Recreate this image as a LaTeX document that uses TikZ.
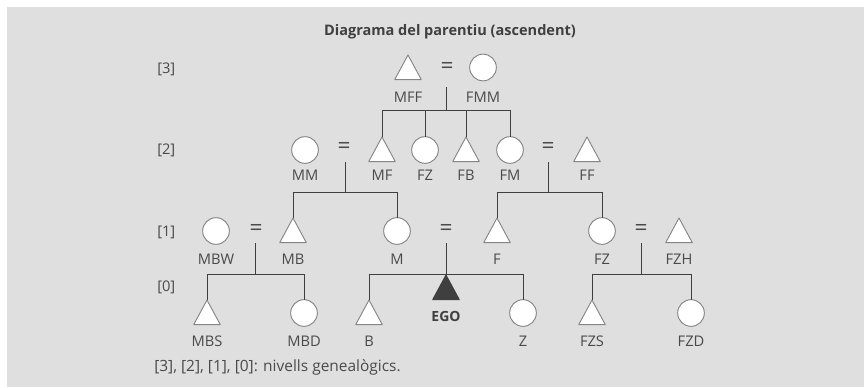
\documentclass[tikz,border=0pt]{standalone}
\usepackage{fontspec}
\setmainfont{Open Sans}
\definecolor{bg}{HTML}{DEDFDE}
\definecolor{ink}{HTML}{3F3F3F}
\definecolor{txt}{HTML}{4A4A4A}
\definecolor{edge}{HTML}{858585}
\tikzset{
  tribase/.style 2 args={shape=rectangle, minimum width=20pt, minimum height=18.5pt, inner sep=0pt, outer sep=0pt, anchor=north,
    append after command={\pgfextra{\draw[draw=#1, fill=#2, line width=0.7pt, line join=round]
      (\tikzlastnode.north) -- (\tikzlastnode.south east) -- (\tikzlastnode.south west) -- cycle;}}},
  male/.style={tribase={edge}{white}},
  egotri/.style={tribase={ink}{ink}},
  female/.style={circle, minimum size=20pt, inner sep=0pt, outer sep=0pt, draw=edge, fill=white, line width=0.7pt},
  lab/.style={text=txt, font=\fontsize{11}{13}\selectfont, inner sep=0pt},
  eq/.style={text=txt, font=\fontsize{17}{18}\selectfont, inner sep=0pt},
  lvl/.style={text=txt, font=\fontsize{11}{13}\selectfont, inner sep=0pt, anchor=west},
  link/.style={draw=ink, line width=0.75pt},
}
\begin{document}
\begin{tikzpicture}[x=0.75pt,y=-0.75pt]
\useasboundingbox (0,0) rectangle (864,387);
\fill[white] (0,0) rectangle (864,387);
\fill[bg] (7,7) rectangle (864,387);
% title
\node[text=ink, font=\bfseries\fontsize{10.9}{13}\selectfont, inner sep=0pt] (title) at (450,32) {Diagrama del parentiu (ascendent)};
% level labels
\node[lvl] (L3) at (157,69) {[3]};
\node[lvl] (L2) at (157,150) {[2]};
\node[lvl] (L1) at (157,232) {[1]};
\node[lvl] (L0) at (157,287) {[0]};
% level 3
\node[male] (MFF) at (408,55) {};
\node[eq] (e3) at (447,68) {=};
\node[female] (FMM) at (483,67.5) {};
\node[lab] (lMFF) at (408,97) {MFF};
\node[lab] (lFMM) at (483,97) {FMM};
% level 2
\node[female] (MM) at (305,150) {};
\node[eq] (e2a) at (344,148) {=};
\node[male] (MF) at (382,137) {};
\node[female] (FZ2) at (425,150) {};
\node[male] (FB) at (466,137) {};
\node[female] (FM) at (510,150) {};
\node[eq] (e2b) at (548,148) {=};
\node[male] (FF) at (587,137) {};
\node[lab] (lMM) at (305,175) {MM};
\node[lab] (lMF) at (382,175) {MF};
\node[lab] (lFZ2) at (425,175) {FZ};
\node[lab] (lFB) at (466,175) {FB};
\node[lab] (lFM) at (510,175) {FM};
\node[lab] (lFF) at (587,175) {FF};
% level 1
\node[female] (MBW) at (216,231) {};
\node[eq] (e1a) at (256,230) {=};
\node[male] (MB) at (293,218) {};
\node[female] (M) at (397,231) {};
\node[eq] (e1b) at (446,230) {=};
\node[male] (F) at (497,218) {};
\node[female] (FZ1) at (602,231) {};
\node[eq] (e1c) at (641,230) {=};
\node[male] (FZH) at (679,218) {};
\node[lab] (lMBW) at (216,259) {MBW};
\node[lab] (lMB) at (293,259) {MB};
\node[lab] (lM) at (397,259) {M};
\node[lab] (lF) at (497,259) {F};
\node[lab] (lFZ1) at (602,259) {FZ};
\node[lab] (lFZH) at (679,259) {FZH};
% level 0
\node[male] (MBS) at (207,300) {};
\node[female] (MBD) at (304,313) {};
\node[male] (B) at (369,300) {};
\node[egotri] (EGO) at (446,275) {};
\node[female] (Z) at (523,313) {};
\node[male] (FZS) at (592,300) {};
\node[female] (FZD) at (691,313) {};
\node[lab] (lMBS) at (207,341) {MBS};
\node[lab] (lMBD) at (304,341) {MBD};
\node[lab] (lB) at (369,341) {B};
\node[lab, text=ink, font=\bfseries\fontsize{10.5}{12}\selectfont] (lEGO) at (446,316) {EGO};
\node[lab] (lZ) at (523,341) {Z};
\node[lab] (lFZS) at (592,341) {FZS};
\node[lab] (lFZD) at (691,341) {FZD};
% footnote
\node[lvl, font=\fontsize{11.6}{13}\selectfont] (note) at (154,367) {[3], [2], [1], [0]: nivells genealògics.};
% marriage junctions
\coordinate (m3t) at (446,87);  \coordinate (m3j) at (446,110);
\coordinate (m2at) at (345,162); \coordinate (m2aj) at (345,192);
\coordinate (m2bt) at (548,162); \coordinate (m2bj) at (548,192);
\coordinate (m1at) at (255,243); \coordinate (m1aj) at (255,274);
\coordinate (m1bt) at (446,243); \coordinate (m1bj) at (446,274);
\coordinate (m1ct) at (641,243); \coordinate (m1cj) at (641,274);
% connectors
\draw[link] (m3t) -- (m3j);
\draw[link] (m3j) -| (MF.north);
\draw[link] (m3j) -| (FZ2.north);
\draw[link] (m3j) -| (FB.north);
\draw[link] (m3j) -| (FM.north);
\draw[link] (m2at) -- (m2aj);
\draw[link] (m2aj) -| (MB.north);
\draw[link] (m2aj) -| (M.north);
\draw[link] (m2bt) -- (m2bj);
\draw[link] (m2bj) -| (F.north);
\draw[link] (m2bj) -| (FZ1.north);
\draw[link] (m1at) -- (m1aj);
\draw[link] (m1aj) -| (MBS.north);
\draw[link] (m1aj) -| (MBD.north);
\draw[link] (m1bt) -- (m1bj);
\draw[link] (m1bj) -| (B.north);
\draw[link] (m1bj) -| (Z.north);
\draw[link] (m1ct) -- (m1cj);
\draw[link] (m1cj) -| (FZS.north);
\draw[link] (m1cj) -| (FZD.north);
\end{tikzpicture}
\end{document}
